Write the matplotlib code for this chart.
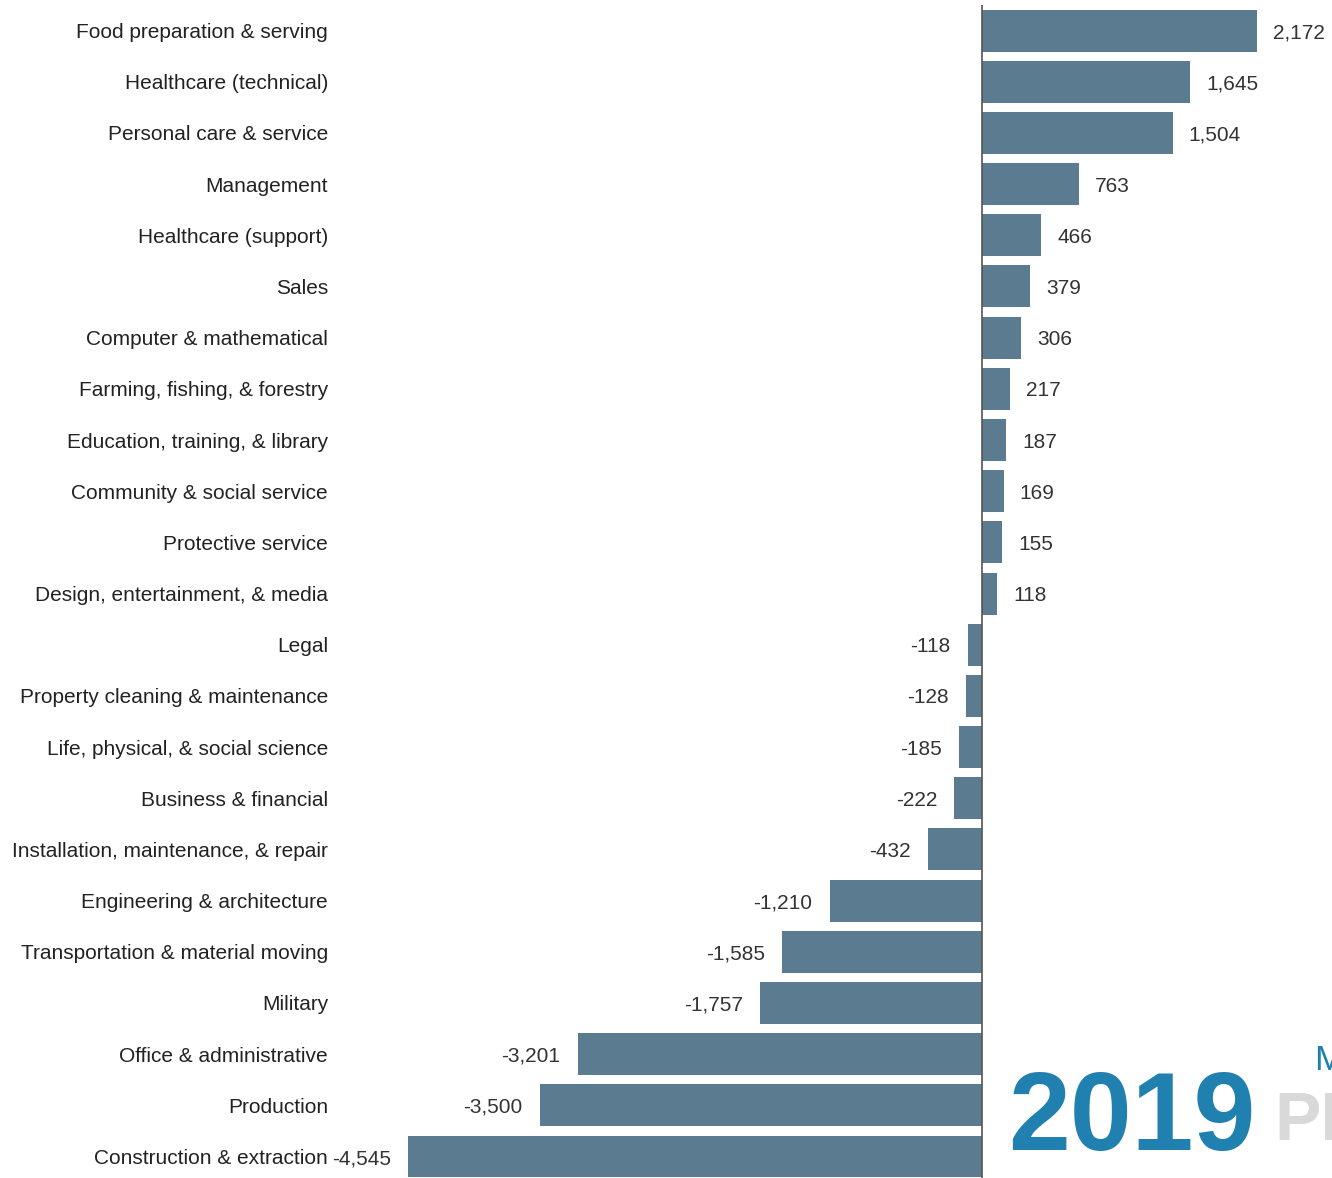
import numpy as np
import matplotlib.pyplot as plt

plt.rcParams['font.family'] = ['Liberation Sans Narrow', 'Liberation Sans', 'DejaVu Sans']

categories = [
    'Food preparation & serving', 'Healthcare (technical)', 'Personal care & service',
    'Management', 'Healthcare (support)', 'Sales', 'Computer & mathematical',
    'Farming, fishing, & forestry', 'Education, training, & library',
    'Community & social service', 'Protective service', 'Design, entertainment, & media',
    'Legal', 'Property cleaning & maintenance', 'Life, physical, & social science',
    'Business & financial', 'Installation, maintenance, & repair',
    'Engineering & architecture', 'Transportation & material moving', 'Military',
    'Office & administrative', 'Production', 'Construction & extraction',
]
values = [2172, 1645, 1504, 763, 466, 379, 306, 217, 187, 169, 155, 118,
          -118, -128, -185, -222, -432, -1210, -1585, -1757, -3201, -3500, -4545]

W, H = 1332, 1178
fig = plt.figure(figsize=(W / 100, H / 100), dpi=100)
# axes: left edge at the longest negative bar, top just above first bar
ax = fig.add_axes([408 / W, 0.0, 1 - 408 / W, (H - 5) / H])

y = np.arange(len(categories))
bar_color = '#5b7c90'
ax.barh(y, values, height=0.82, color=bar_color)
ax.axvline(0, color='#555555', lw=1.2)

ax.set_xlim(-4545, 2765)
ax.set_ylim(22.42, -0.5)

fs = 15
for yi, v in zip(y, values):
    txt = f'{v:,}'
    if v >= 0:
        ax.annotate(txt, (v, yi), xytext=(11.5, 0), textcoords='offset points',
                    ha='left', va='center_baseline', fontsize=fs, color='#333333')
    else:
        ax.annotate(txt, (v, yi), xytext=(-12.5, 0), textcoords='offset points',
                    ha='right', va='center_baseline', fontsize=fs, color='#333333')

ax.set_yticks(y)
ax.set_yticklabels(categories, fontsize=fs, color='#222222')
ax.tick_params(axis='y', length=0, pad=57.6)
ax.set_xticks([])
for s in ax.spines.values():
    s.set_visible(False)

# logo fragment at the bottom right
fig.text(1008 / W, (H - 1150) / H, '2019', fontsize=80, fontweight='bold',
         color='#2080b0', ha='left', va='baseline')
fig.text(1314 / W, (H - 1070) / H, 'M', fontsize=25, color='#2080b0',
         ha='left', va='baseline')
fig.text(1274 / W, (H - 1140) / H, 'PR', fontsize=50, fontweight='bold',
         color='#d9d9d9', ha='left', va='baseline')

fig.savefig('out.png', dpi=100)
